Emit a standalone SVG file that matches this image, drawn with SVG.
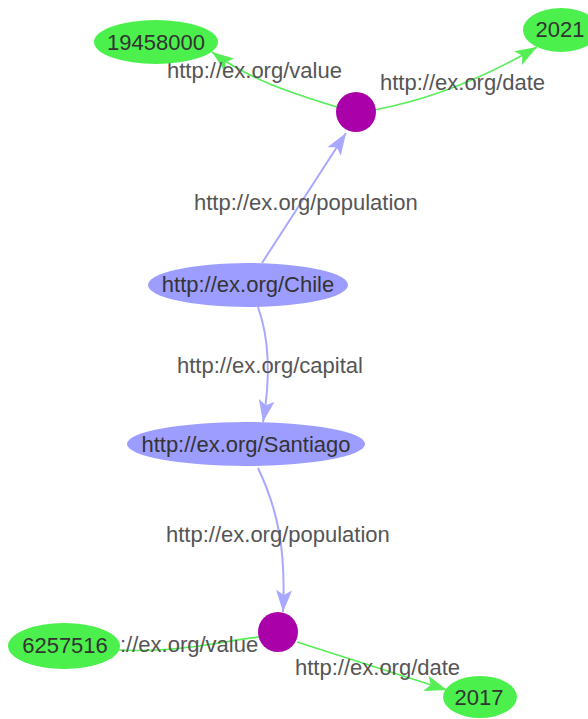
<svg xmlns="http://www.w3.org/2000/svg" width="588" height="719" viewBox="0 0 588 719">
<style>
.eb{fill:none;stroke:#a8a8ff;stroke-width:2}
.eg{fill:none;stroke:#55ee55;stroke-width:1.6}
.lbl{font-family:"Liberation Sans",Arial,sans-serif;font-size:22px;fill:#555555}
.nt{font-family:"Liberation Sans",Arial,sans-serif;font-size:22px;fill:#333333;text-anchor:middle}
.blue{fill:#9d9dff}
.green{fill:#4cf04c}
.bn{fill:#aa00aa}
</style>
<defs>
<marker id="ab" markerUnits="userSpaceOnUse" markerWidth="24" markerHeight="16" refX="22" refY="8" orient="auto" viewBox="0 0 24 16">
<path d="M0,0 L22,8 L0,16 L5,8 Z" fill="#a8a8ff"/>
</marker>
<marker id="ag" markerUnits="userSpaceOnUse" markerWidth="24" markerHeight="16" refX="22" refY="8" orient="auto" viewBox="0 0 24 16">
<path d="M0,0 L22,8 L0,16 L5,8 Z" fill="#55ee55"/>
</marker>
</defs>
<g id="connectors">
<path class="eb" d="M262,263 L346,133" marker-end="url(#ab)"/>
<path class="eg" d="M337,107 C292,93 250,80 212,52" marker-end="url(#ag)"/>
<path class="eg" d="M374,110 Q455,95 537,47" marker-end="url(#ag)"/>
<path class="eb" d="M258,307 C268,335 272,370 263,422" marker-end="url(#ab)"/>
<path class="eb" d="M258,468 C278,510 286,550 283,612" marker-end="url(#ab)"/>
<path class="eg" d="M259,637 C210,643 165,656 92,648" marker-end="url(#ag)"/>
<path class="eg" d="M297,642 L447,690" marker-end="url(#ag)"/>
</g>
<g id="labels">
<text class="lbl" x="167" y="78">http://ex.org/value</text>
<text class="lbl" x="380" y="90">http://ex.org/date</text>
<text class="lbl" x="194" y="210">http://ex.org/population</text>
<text class="lbl" x="177" y="373">http://ex.org/capital</text>
<text class="lbl" x="166" y="542">http://ex.org/population</text>
<text class="lbl" x="120" y="652">://ex.org/value</text>
<text class="lbl" x="295" y="675">http://ex.org/date</text>
</g>
<g id="n19458000"><ellipse class="green" cx="156" cy="42" rx="62" ry="22"/><text class="nt" x="156" y="50">19458000</text></g>
<g id="n2021"><ellipse class="green" cx="561" cy="30" rx="38" ry="22"/><text class="nt" x="560" y="37">2021</text></g>
<g id="pop1"><circle class="bn" cx="356" cy="112" r="20"/></g>
<g id="chile"><ellipse class="blue" cx="248" cy="285" rx="100" ry="22"/><text class="nt" x="248" y="292">http://ex.org/Chile</text></g>
<g id="santiago"><ellipse class="blue" cx="246" cy="444" rx="119" ry="22"/><text class="nt" x="246" y="452">http://ex.org/Santiago</text></g>
<g id="pop2"><circle class="bn" cx="278" cy="632" r="20"/></g>
<g id="n6257516"><ellipse class="green" cx="64" cy="646" rx="56" ry="23"/><text class="nt" x="65" y="653">6257516</text></g>
<g id="n2017"><ellipse class="green" cx="480" cy="697" rx="37" ry="21"/><text class="nt" x="479" y="705">2017</text></g>
</svg>
